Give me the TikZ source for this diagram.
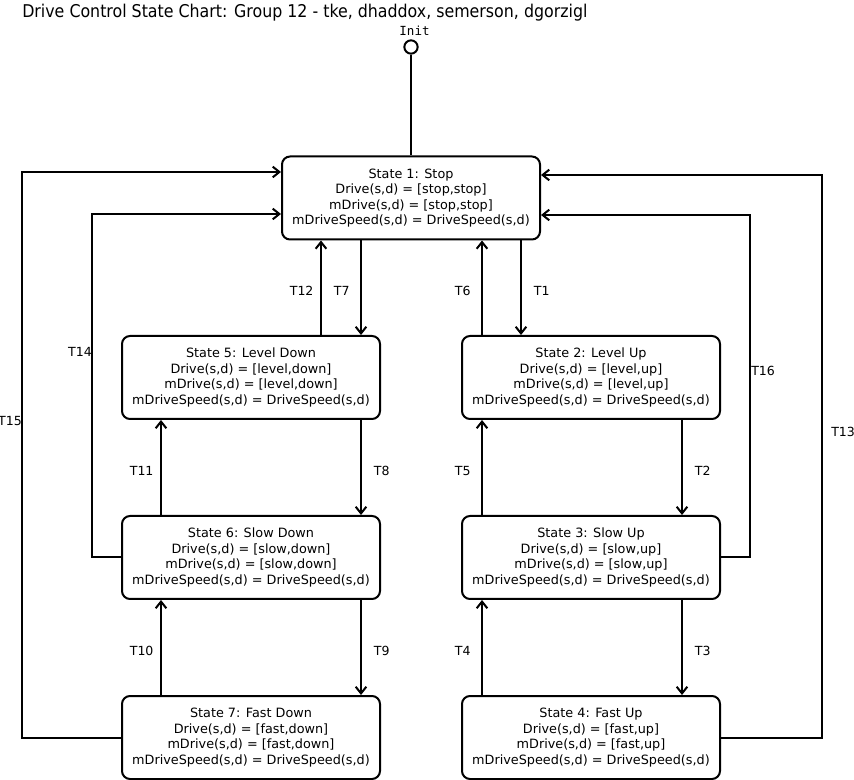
\documentclass[tikz,border=0pt]{standalone}
\usepackage{fontspec}
\setmainfont{DejaVu Sans}
\newfontfamily\titlefont{DejaVu Sans Condensed}
\newfontfamily\monofont{DejaVu Sans Mono}
\usetikzlibrary{arrows.meta,calc}

\tikzset{
  state/.style={draw, line width=1.5pt, rounded corners=6pt,
    minimum width=193.5pt, minimum height=62.25pt, align=center,
    inner sep=0pt, font=\fontsize{9.6}{11.6}\selectfont},
  trans/.style={line width=1.5pt, -{Straight Barb[length=5pt,width=8pt,line width=1.5pt]}},
  tlabel/.style={font=\fontsize{9.4}{11}\selectfont, inner sep=0pt},
  lleft/.style={tlabel, midway, xshift=-14.5pt, yshift=-2.7pt},
  lright/.style={tlabel, midway, xshift=15.5pt, yshift=-2.7pt},
}

\begin{document}
\begin{tikzpicture}[x=0.75pt,y=-0.75pt]
  \useasboundingbox (0,0) rectangle (854,780);

  % title
  \node[anchor=base west, inner sep=0pt, font=\titlefont\fontsize{13.2}{15}\selectfont]
    (title) at (22,18) {Drive Control State Chart: Group 12 - tke, dhaddox, semerson, dgorzigl};

  % initial pseudo-state
  \node[draw, circle, line width=1.5pt, minimum size=10pt, inner sep=0pt] (init) at (411,47) {};
  \node[font=\monofont\fontsize{9.4}{11}\selectfont, inner sep=0pt] (initlbl) at (414.5,31) {Init};

  % states
  \node[state] (s1) at (411,198)   {State 1: Stop\\Drive(s,d) = [stop,stop]\\mDrive(s,d) = [stop,stop]\\mDriveSpeed(s,d) = DriveSpeed(s,d)};
  \node[state] (s5) at (251,377.5) {State 5: Level Down\\Drive(s,d) = [level,down]\\mDrive(s,d) = [level,down]\\mDriveSpeed(s,d) = DriveSpeed(s,d)};
  \node[state] (s2) at (591,377.5) {State 2: Level Up\\Drive(s,d) = [level,up]\\mDrive(s,d) = [level,up]\\mDriveSpeed(s,d) = DriveSpeed(s,d)};
  \node[state] (s6) at (251,557.5) {State 6: Slow Down\\Drive(s,d) = [slow,down]\\mDrive(s,d) = [slow,down]\\mDriveSpeed(s,d) = DriveSpeed(s,d)};
  \node[state] (s3) at (591,557.5) {State 3: Slow Up\\Drive(s,d) = [slow,up]\\mDrive(s,d) = [slow,up]\\mDriveSpeed(s,d) = DriveSpeed(s,d)};
  \node[state] (s7) at (251,737.5) {State 7: Fast Down\\Drive(s,d) = [fast,down]\\mDrive(s,d) = [fast,down]\\mDriveSpeed(s,d) = DriveSpeed(s,d)};
  \node[state] (s4) at (591,737.5) {State 4: Fast Up\\Drive(s,d) = [fast,up]\\mDrive(s,d) = [fast,up]\\mDriveSpeed(s,d) = DriveSpeed(s,d)};

  % init line
  \draw[line width=1.5pt] (init.south) -- (s1.north);

  % vertical transitions, left column
  \draw[trans] ($(s5.north)+(70,0)$)  -- node[lleft]  {T12} ($(s1.south)+(-90,0)$);
  \draw[trans] ($(s1.south)+(-50,0)$) -- node[lleft]  {T7}  ($(s5.north)+(110,0)$);
  \draw[trans] ($(s6.north)+(-90,0)$) -- node[lleft]  {T11} ($(s5.south)+(-90,0)$);
  \draw[trans] ($(s5.south)+(110,0)$) -- node[lright] {T8}  ($(s6.north)+(110,0)$);
  \draw[trans] ($(s7.north)+(-90,0)$) -- node[lleft]  {T10} ($(s6.south)+(-90,0)$);
  \draw[trans] ($(s6.south)+(110,0)$) -- node[lright] {T9}  ($(s7.north)+(110,0)$);

  % vertical transitions, right column
  \draw[trans] ($(s2.north)+(-109,0)$) -- node[lleft]  {T6} ($(s1.south)+(71,0)$);
  \draw[trans] ($(s1.south)+(110,0)$)  -- node[lright] {T1} ($(s2.north)+(-70,0)$);
  \draw[trans] ($(s3.north)+(-109,0)$) -- node[lleft]  {T5} ($(s2.south)+(-109,0)$);
  \draw[trans] ($(s2.south)+(91,0)$)   -- node[lright] {T2} ($(s3.north)+(91,0)$);
  \draw[trans] ($(s4.north)+(-109,0)$) -- node[lleft]  {T4} ($(s3.south)+(-109,0)$);
  \draw[trans] ($(s3.south)+(91,0)$)   -- node[lright] {T3} ($(s4.north)+(91,0)$);

  % return transitions to the stop state
  \coordinate (c14) at (92,214);
  \coordinate (c15) at (22,172);
  \coordinate (c16) at (750,215);
  \coordinate (c13) at (822,175);
  \draw[trans] (s6.west) -| (c14) -- (c14 -| s1.west);
  \draw[trans] (s7.west) -| (c15) -- (c15 -| s1.west);
  \draw[trans] (s3.east) -| (c16) -- (c16 -| s1.east);
  \draw[trans] (s4.east) -| (c13) -- (c13 -| s1.east);

  \node[tlabel, anchor=east] (l14) at (92,352) {T14};
  \node[tlabel, anchor=east] (l15) at (22,421) {T15};
  \node[tlabel, anchor=west] (l16) at (751,371) {T16};
  \node[tlabel, anchor=west] (l13) at (831,432) {T13};
\end{tikzpicture}
\end{document}
